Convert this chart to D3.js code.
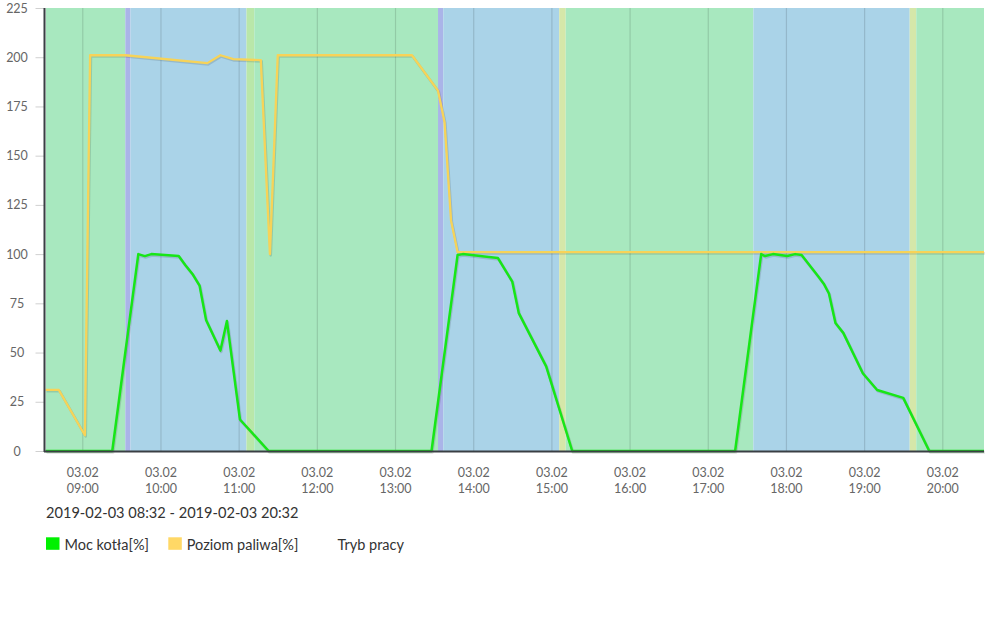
<!DOCTYPE html>
<html>
<head>
<meta charset="utf-8">
<script src="https://cdn.jsdelivr.net/npm/d3@7"></script>
<style>
  html, body { margin: 0; padding: 0; background: #fff; }
  svg { display: block; font-family: Lato, "Open Sans", sans-serif; }
</style>
</head>
<body>
<svg id="chart" width="1000" height="637"></svg>
<script>
// ---------- DATA ----------
const day = "2019-02-03";
const rangeStart = "08:32";
const rangeEnd = "20:32";
const yTicks = [0, 25, 50, 75, 100, 125, 150, 175, 200, 225];

// Moc kotła[%]
const powerTimes  = ["08:32","09:23","09:43","09:48","09:53","10:14","10:19","10:25","10:30","10:35","10:46","10:51","11:01","11:23",
                     "13:28","13:48","13:52","14:19","14:30","14:35","14:56","15:16",
                     "17:21","17:41","17:44","17:50","18:01","18:07","18:12","18:25","18:29","18:33","18:38","18:44","18:59","19:10","19:30","19:50","20:32"];
const powerValues = [0, 0, 100, 99, 100, 99, 94.5, 89.5, 84, 66.5, 51, 66, 16, 0,
                     0, 99.5, 100, 98, 86, 70, 43, 0,
                     0, 100, 99, 100, 99, 100, 99.5, 88.5, 85, 80, 65, 60, 39.5, 31, 27, 0, 0];

// Poziom paliwa[%]
const fuelTimes  = ["08:32","08:42","09:02","09:06","09:33","10:36","10:46","10:56","11:17","11:24","11:30","13:13","13:33","13:38","13:43","13:48","20:32"];
const fuelValues = [31, 31, 8, 201, 201, 197, 201, 199, 198.5, 100, 201, 201, 183, 167, 117, 101, 101];

// Tryb pracy (background bands)
const modeStarts = ["08:32","09:33","09:37","11:06","11:12","13:33","13:37","15:06","15:11","17:35","19:35","19:40"];
const modeEnds   = ["09:33","09:37","11:06","11:12","13:33","13:37","15:06","15:11","17:35","19:35","19:40","20:32"];
const modeKinds  = ["praca","rozpalanie","wygaszanie","postoj1","praca","rozpalanie","wygaszanie","postoj2","praca","wygaszanie","postoj2","praca"];
const modeColors = { praca: "#a8e8bf", rozpalanie: "#aab4e8", wygaszanie: "#aad3e8", postoj1: "#b9e7a9", postoj2: "#d5e7a9" };

const legendLabels = ["Moc kotła[%]", "Poziom paliwa[%]", "Tryb pracy"];
const legendColors = ["#00f000", "#ffd866", null];
const powerColor = "#17e617";
const fuelColor = "#f7d358";

// ---------- SCALES ----------
const parse = d3.timeParse("%Y-%m-%d %H:%M");
const T = s => parse(day + " " + s);

const plotLeft = 45.8, plotRight = 984, plotTop = 8, plotBottom = 451;
const x = d3.scaleTime().domain([T(rangeStart), T(rangeEnd)]).range([plotLeft, plotRight]);
const y = d3.scaleLinear().domain([0, 225]).range([plotBottom, plotTop]);

const svg = d3.select("#chart");

// ---------- BANDS ----------
svg.append("g").selectAll("rect")
  .data(modeKinds.map((k, i) => ({ k, s: T(modeStarts[i]), e: T(modeEnds[i]) })))
  .join("rect")
  .attr("x", d => x(d.s))
  .attr("width", d => x(d.e) - x(d.s))
  .attr("y", plotTop)
  .attr("height", plotBottom - plotTop)
  .attr("fill", d => modeColors[d.k]);

// ---------- GRID ----------
const hours = d3.timeHour.every(1).range(T(rangeStart), T(rangeEnd));
svg.append("g")
  .attr("transform", `translate(0,${plotBottom})`)
  .call(d3.axisBottom(x).tickValues(hours).tickSize(-(plotBottom - plotTop)).tickFormat(""))
  .call(g => g.select(".domain").remove())
  .call(g => g.selectAll("line").attr("stroke", "#000").attr("stroke-opacity", 0.13).attr("stroke-width", 1.2));

// ---------- LINES ----------
const line = d3.line().x(d => x(d.t)).y(d => y(d.v));
const powerData = powerTimes.map((t, i) => ({ t: T(t), v: powerValues[i] }));
const fuelData = fuelTimes.map((t, i) => ({ t: T(t), v: fuelValues[i] }));

function drawSeries(data, color, w) {
  svg.append("path").datum(data)
    .attr("d", line).attr("fill", "none")
    .attr("stroke", "#000").attr("stroke-opacity", 0.12).attr("stroke-width", w + 0.4)
    .attr("stroke-linejoin", "round")
    .attr("transform", "translate(0.8,1.2)");
  svg.append("path").datum(data)
    .attr("d", line).attr("fill", "none")
    .attr("stroke", color).attr("stroke-width", w)
    .attr("stroke-linejoin", "round");
}
drawSeries(fuelData, fuelColor, 2.3);
drawSeries(powerData, powerColor, 2.5);

// ---------- AXES ----------
const yAxis = svg.append("g")
  .attr("transform", `translate(44.5,0)`)
  .call(d3.axisLeft(y).tickValues(yTicks).tickSize(9).tickPadding(0))
  .call(g => g.select(".domain").remove());
yAxis.selectAll("line").attr("stroke", "#d0d0d0");
yAxis.selectAll("text")
  .attr("x", -27.5)
  .attr("text-anchor", "middle")
  .attr("fill", "#666")
  .style("font-size", "12.5px")
  .style("font-family", "Lato, sans-serif");

const xAxis = svg.append("g")
  .attr("transform", `translate(0,${plotBottom})`)
  .call(d3.axisBottom(x).tickValues(hours).tickSize(0).tickFormat(""))
  .call(g => g.select(".domain").remove());
xAxis.selectAll(".tick").each(function(d) {
  const t = d3.select(this).append("text")
    .attr("fill", "#666")
    .attr("text-anchor", "middle")
    .style("font-size", "12.5px")
    .style("font-family", "Lato, sans-serif");
  t.append("tspan").attr("x", 0).attr("y", 26).text(d3.timeFormat("%d.%m")(d));
  t.append("tspan").attr("x", 0).attr("y", 42).text(d3.timeFormat("%H:%M")(d));
});

// axis lines
svg.append("line").attr("x1", 44.5).attr("x2", 44.5).attr("y1", plotTop).attr("y2", plotBottom + 1)
  .attr("stroke", "#3a3f44").attr("stroke-width", 2);
svg.append("line").attr("x1", 44).attr("x2", plotRight).attr("y1", plotBottom + 0.5).attr("y2", plotBottom + 0.5)
  .attr("stroke", "#3a3f44").attr("stroke-width", 1.8);

// ---------- RANGE TEXT ----------
svg.append("text")
  .attr("x", 46).attr("y", 518)
  .attr("fill", "#333")
  .style("font-size", "14.6px")
  .text(`${day} ${rangeStart} - ${day} ${rangeEnd}`);

// ---------- LEGEND ----------
const legendX = [46, 168.3, 319];
const lg = svg.append("g");
legendLabels.forEach((lab, i) => {
  if (legendColors[i]) {
    lg.append("rect").attr("x", legendX[i]).attr("y", 537.3).attr("width", 13.5).attr("height", 12.5)
      .attr("fill", legendColors[i]);
  }
  lg.append("text").attr("x", legendX[i] + 18.5).attr("y", 550)
    .attr("fill", "#333").style("font-size", "14.5px").text(lab);
});
</script>
</body>
</html>
